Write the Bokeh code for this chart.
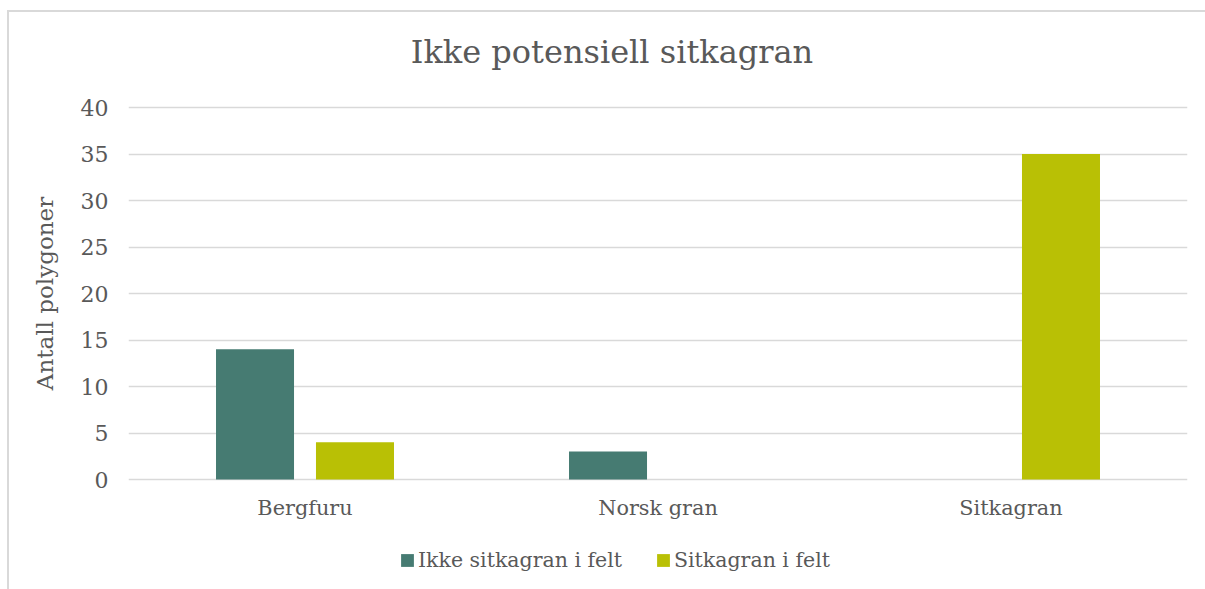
from bokeh.plotting import figure
from bokeh.models import FactorRange, Legend, LegendItem, ColumnDataSource, Range1d, Label
from bokeh.transform import dodge
from bokeh.embed import file_html
from bokeh.resources import INLINE

categories = ["Bergfuru", "Norsk gran", "Sitkagran"]
ikke_sitkagran = [14, 3, 0]
sitkagran_i_felt = [4, 0, 35]
series_names = ["Ikke sitkagran i felt", "Sitkagran i felt"]
y_ticks = [0, 5, 10, 15, 20, 25, 30, 35, 40]
title_text = "Ikke potensiell sitkagran"
y_label = "Antall polygoner"

FONT = "DejaVu Serif"
TXT = "#595959"
C1 = "#467B72"
C2 = "#B9C005"
BORDER = "#d9d9d9"

# layout (pixels): value axis 0..40 spans 372 px; frame extended above/below so
# the legend and title can sit inside it without clipping
FRAME_TOP = 9
FRAME_H = 568
Y0_PX = 479          # pixel row of value 0
Y40_PX = 107         # pixel row of value 40
PX_PER_UNIT = (Y0_PX - Y40_PX) / 40.0
y_start = -(FRAME_TOP + FRAME_H - Y0_PX) / PX_PER_UNIT
y_end = 40 + (Y40_PX - FRAME_TOP) / PX_PER_UNIT

src = ColumnDataSource(dict(cat=categories, a=ikke_sitkagran, b=sitkagran_i_felt))

p = figure(x_range=FactorRange(*categories), y_range=Range1d(y_start, y_end),
           frame_width=1059, frame_height=FRAME_H, output_backend="svg", toolbar_location=None,
           min_border_left=128, min_border_right=18, min_border_top=FRAME_TOP, min_border_bottom=12)
p.x_range.range_padding = 0
p.x_range.factor_padding = 0

r1 = p.vbar(x=dodge("cat", -0.1416, range=p.x_range), top="a", width=0.221, source=src,
            fill_color=C1, line_color=None)
r2 = p.vbar(x=dodge("cat", 0.1416, range=p.x_range), top="b", width=0.221, source=src,
            fill_color=C2, line_color=None)

# title (centered over the whole chart area)
title_x = (611.5 - 128) / 353.0
title_y = 40 + (Y40_PX - 51) / PX_PER_UNIT
p.add_layout(Label(x=title_x, y=title_y, text=title_text, text_align="center",
                   text_baseline="alphabetic", text_font=FONT, text_font_size="32px",
                   text_color=TXT))

p.outline_line_color = None
p.border_fill_alpha = 0
p.background_fill_alpha = 0
p.xgrid.grid_line_color = None
p.ygrid.grid_line_color = BORDER
p.ygrid.grid_line_width = 1.5
p.yaxis.ticker = y_ticks
p.xaxis.fixed_location = 0

for ax in (p.xaxis, p.yaxis):
    ax.axis_line_color = None
    ax.major_tick_line_color = None
    ax.minor_tick_line_color = None
    ax.major_label_text_font = FONT
    ax.major_label_text_color = TXT

p.yaxis.major_label_text_font_size = "22px"
p.xaxis.major_label_text_font_size = "20.8px"
p.yaxis.major_label_standoff = 14
p.xaxis.major_label_standoff = 10
p.yaxis.axis_label = y_label
p.yaxis.axis_label_text_font = FONT
p.yaxis.axis_label_text_font_size = "23px"
p.yaxis.axis_label_text_font_style = "normal"
p.yaxis.axis_label_text_color = TXT
p.yaxis.axis_label_standoff = 20

legend = Legend(items=[LegendItem(label=series_names[0], renderers=[r1]),
                       LegendItem(label=series_names[1], renderers=[r2])],
                orientation="horizontal", location=(271, 5),
                label_text_font=FONT, label_text_font_size="20.5px", label_text_color=TXT,
                glyph_width=16, glyph_height=16, label_standoff=3, spacing=33,
                border_line_color=None, background_fill_alpha=0, padding=0, margin=0)
p.add_layout(legend, "center")

p.styles = {
    "background": (f"linear-gradient({BORDER},{BORDER}) 7px 11px / 2px 100% no-repeat, "
                   f"linear-gradient({BORDER},{BORDER}) 7px 10px / 100% 2px no-repeat, white"),
}

open("out.html", "w").write(file_html(p, INLINE))
